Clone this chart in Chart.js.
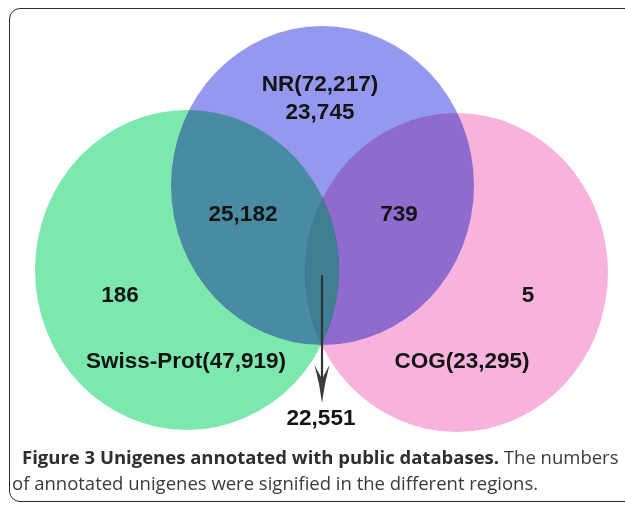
<!DOCTYPE html>
<html>
<head>
<meta charset="utf-8">
<script src="https://cdn.jsdelivr.net/npm/chart.js@4.4.1/dist/chart.umd.min.js"></script>
<style>
  html, body { margin: 0; padding: 0; background: #fff; }
  body { width: 625px; height: 505px; overflow: hidden; position: relative; }
  #frame {
    position: absolute; left: 9px; top: 8px; width: 720px; height: 494px;
    box-sizing: border-box; border: 1.6px solid #2b2b2b; border-radius: 11px;
  }
  #wrap { position: absolute; left: 0; top: 0; width: 625px; height: 505px; }
  .cap { position: absolute; font-family: "Open Sans", sans-serif; font-size: 18.5px; color: #3a3a3a; white-space: nowrap; line-height: 20px; }
  .cap b { font-weight: 700; color: #2e2e2e; }
  #cap1 { left: 22px; top: 447px; }
  #cap2 { left: 12px; top: 473px; }
</style>
</head>
<body>
<div id="frame"></div>
<div id="wrap"><canvas id="c" width="625" height="505"></canvas></div>
<div class="cap" id="cap1"><b>Figure 3 Unigenes annotated with public databases.</b> The numbers</div>
<div class="cap" id="cap2">of annotated unigenes were signified in the different regions.</div>
<script>
// ---- data ----
const setNames = ['NR', 'Swiss-Prot', 'COG'];
const setTotals = [72217, 47919, 23295];
const regionNames = ['NR only', 'NR & Swiss-Prot', 'NR & COG', 'Swiss-Prot only', 'COG only', 'NR & Swiss-Prot & COG'];
const regionValues = [23745, 25182, 739, 186, 5, 22551];

// ---- styles / layout (not data) ----
const setColors = ['#9499ef', '#7de8ae', '#f7b3dc'];
const tripleColor = '#407e94';
const setShapes = [
  { cx: 322.5, cy: 185.5, rx: 151.5, ry: 159.5 },
  { cx: 187,   cy: 270,   rx: 152,   ry: 160 },
  { cx: 456.5, cy: 272.5, rx: 151.5, ry: 159.5 }
];
const setLabelPos = [ { x: 320, y: 85 }, { x: 186, y: 362 }, { x: 462, y: 362 } ];
const regionLabelPos = [
  { x: 320, y: 113 }, { x: 243, y: 215 }, { x: 399, y: 215 },
  { x: 120, y: 296 }, { x: 528, y: 296 }, { x: 321, y: 419 }
];
const arrowFrom = { x: 322, y: 275 }, arrowTo = { x: 322, y: 403 };
const labelFont = 'bold 22.5px "Liberation Sans", Arial, sans-serif';

const fmt = v => v.toLocaleString('en-US');

const datasets = setNames.map((name, i) => ({
  label: name + '(' + fmt(setTotals[i]) + ')',
  data: [{ x: setShapes[i].cx, y: setShapes[i].cy, r: setShapes[i].rx }],
  backgroundColor: setColors[i],
  borderWidth: 0,
  hoverBorderWidth: 0,
  hoverRadius: 0,
  clip: false
}));

function ellipsePath(ctx, chart, i) {
  const xs = chart.scales.x, ys = chart.scales.y, s = setShapes[i];
  const px = xs.getPixelForValue(s.cx), py = ys.getPixelForValue(s.cy);
  ctx.beginPath();
  ctx.ellipse(px, py, s.rx, s.ry, 0, 0, Math.PI * 2);
}

const vennPlugin = {
  id: 'venn',
  beforeDatasetDraw(chart, args) {
    const ctx = chart.ctx, i = args.index, el = args.meta.data[0];
    const s = setShapes[i];
    ctx.save();
    ctx.globalCompositeOperation = 'multiply';
    // stretch the round bubble vertically into the set's ellipse
    ctx.translate(el.x, el.y);
    ctx.scale(1, s.ry / s.rx);
    ctx.translate(-el.x, -el.y);
  },
  afterDatasetDraw(chart) { chart.ctx.restore(); },
  afterDatasetsDraw(chart) {
    const ctx = chart.ctx, xs = chart.scales.x, ys = chart.scales.y;
    // common region of all three sets
    ctx.save();
    for (let i = 0; i < setShapes.length; i++) { ellipsePath(ctx, chart, i); ctx.clip(); }
    ctx.fillStyle = tripleColor;
    ctx.fillRect(0, 0, chart.width, chart.height);
    ctx.restore();

    // arrow to the triple-overlap count
    const ax = xs.getPixelForValue(arrowFrom.x), ay1 = ys.getPixelForValue(arrowFrom.y);
    const ay2 = ys.getPixelForValue(arrowTo.y);
    ctx.save();
    ctx.strokeStyle = '#2f3438'; ctx.lineWidth = 2.2;
    ctx.beginPath(); ctx.moveTo(ax, ay1); ctx.lineTo(ax, ay2 - 20); ctx.stroke();
    ctx.fillStyle = '#3a3d40';
    ctx.beginPath();
    ctx.moveTo(ax, ay2);
    ctx.quadraticCurveTo(ax - 2.5, ay2 - 20, ax - 7.5, ay2 - 38);
    ctx.lineTo(ax, ay2 - 24);
    ctx.lineTo(ax + 7.5, ay2 - 38);
    ctx.quadraticCurveTo(ax + 2.5, ay2 - 20, ax, ay2);
    ctx.closePath(); ctx.fill();
    ctx.restore();

    // labels
    ctx.save();
    ctx.font = labelFont; ctx.fillStyle = '#141414';
    ctx.textAlign = 'center'; ctx.textBaseline = 'middle';
    chart.data.datasets.forEach((d, i) => {
      ctx.fillText(d.label, xs.getPixelForValue(setLabelPos[i].x), ys.getPixelForValue(setLabelPos[i].y));
    });
    regionValues.forEach((v, i) => {
      ctx.fillText(fmt(v), xs.getPixelForValue(regionLabelPos[i].x), ys.getPixelForValue(regionLabelPos[i].y));
    });
    ctx.restore();
  }
};

new Chart(document.getElementById('c'), {
  type: 'bubble',
  data: { datasets },
  options: {
    responsive: false,
    devicePixelRatio: 1,
    animation: false,
    events: [],
    layout: { padding: 0, autoPadding: false },
    plugins: { legend: { display: false }, tooltip: { enabled: false }, title: { display: false } },
    scales: {
      x: { type: 'linear', min: 0, max: 625, display: false },
      y: { type: 'linear', min: 0, max: 505, reverse: true, display: false }
    }
  },
  plugins: [vennPlugin]
});
</script>
</body>
</html>
